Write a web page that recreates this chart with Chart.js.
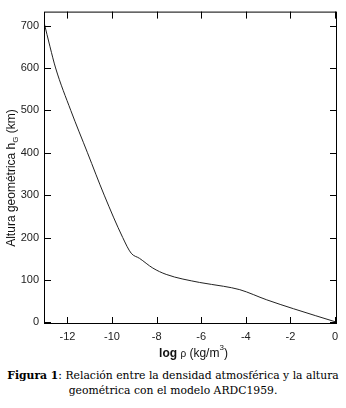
<!DOCTYPE html>
<html>
<head>
<meta charset="utf-8">
<script src="https://cdn.jsdelivr.net/npm/chart.js@4.4.0/dist/chart.umd.min.js"></script>
<style>
  html, body { margin: 0; padding: 0; background: #fff; }
  #wrap { position: relative; width: 346px; height: 408px; }
  #box { position: absolute; left: 0; top: 0; width: 346px; height: 360px; }
  #caption {
    position: absolute; left: 0; top: 368px; width: 346px;
    font-family: "DejaVu Serif", serif; font-size: 10.8px; line-height: 15px;
    text-align: center; color: #000; white-space: nowrap;
  }
</style>
</head>
<body>
<div id="wrap">
  <div id="box"><canvas id="myChart"></canvas></div>
  <div id="caption"><b>Figura 1</b>: Relación entre la densidad atmosférica y la altura<br>geométrica con el modelo ARDC1959.</div>
</div>
<script>
// log densidad (kg/m3) y altura geometrica (km)
const logRho = [-13.05, -12.78, -12.53, -11.85, -11.1, -10.35, -9.52, -9.14, -8.77, -8.17, -7.57, -6.07, -5.0, -4.27, -3.06, -1.86, 0.09];
const altura = [708, 650, 600, 500, 400, 300, 200, 163, 151, 128, 113, 94, 85, 77, 53, 32, 0];
const xTicks = [-12, -10, -8, -6, -4, -2, 0];
const yTicks = [0, 100, 200, 300, 400, 500, 600, 700];

const ctx = document.getElementById('myChart');
const points = logRho.map((v, i) => ({ x: v, y: altura[i] }));

// marco con marcas hacia dentro y titulos de los ejes
const frame = {
  id: 'frame',
  afterDraw(chart) {
    const c = chart.ctx, a = chart.chartArea, x = chart.scales.x, y = chart.scales.y;
    const tl = 7;
    c.save();
    c.strokeStyle = '#000';
    c.lineWidth = 1;
    c.strokeRect(a.left + 0.5, a.top + 0.5, a.width - 1, a.height - 1);
    c.beginPath();
    xTicks.forEach(v => {
      const px = Math.round(x.getPixelForValue(v)) + 0.5;
      c.moveTo(px, a.bottom); c.lineTo(px, a.bottom - tl);
      c.moveTo(px, a.top); c.lineTo(px, a.top + tl);
    });
    yTicks.forEach(v => {
      const py = Math.round(y.getPixelForValue(v)) + 0.5;
      c.moveTo(a.left, py); c.lineTo(a.left + tl, py);
      c.moveTo(a.right, py); c.lineTo(a.right - tl, py);
    });
    c.stroke();

    // titulo eje x: log ρ (kg/m^3)
    c.fillStyle = '#111';
    c.textBaseline = 'alphabetic';
    c.textAlign = 'left';
    const parts = [
      { t: 'log', f: 'bold 12px "Liberation Sans"', dy: 0 },
      { t: ' ', f: '12px "Liberation Sans"', dy: 0 },
      { t: 'ρ', f: '10px "Liberation Sans"', dy: 0 },
      { t: ' (kg/m', f: '12px "Liberation Sans"', dy: 0 },
      { t: '3', f: '8px "Liberation Sans"', dy: -7 },
      { t: ')', f: '12px "Liberation Sans"', dy: 0 }
    ];
    let w = 0;
    parts.forEach(p => { c.font = p.f; w += c.measureText(p.t).width; });
    let cx = (a.left + a.right) / 2 + 3 - w / 2;
    const by = 357;
    parts.forEach(p => { c.font = p.f; c.fillText(p.t, cx, by + p.dy); cx += c.measureText(p.t).width; });

    // titulo eje y: Altura geométrica h_G (km)
    c.translate(15, 178);
    c.rotate(-Math.PI / 2);
    const yp = [
      { t: 'Altura geométrica h', f: '12px "Liberation Sans"', dy: 0 },
      { t: 'G', f: '8px "Liberation Sans"', dy: 3 },
      { t: ' (km)', f: '12px "Liberation Sans"', dy: 0 }
    ];
    w = 0;
    yp.forEach(p => { c.font = p.f; w += c.measureText(p.t).width; });
    cx = -w / 2;
    yp.forEach(p => { c.font = p.f; c.fillText(p.t, cx, p.dy); cx += c.measureText(p.t).width; });
    c.restore();
  }
};

new Chart(ctx, {
  type: 'line',
  data: {
    datasets: [{
      data: points,
      borderColor: '#222',
      borderWidth: 1,
      pointRadius: 0,
      cubicInterpolationMode: 'monotone',
      fill: false
    }]
  },
  options: {
    responsive: true,
    maintainAspectRatio: false,
    animation: false,
    events: [],
    layout: { padding: { top: 0, right: 9, bottom: 0, left: 0 } },
    plugins: { legend: { display: false }, tooltip: { enabled: false } },
    scales: {
      x: {
        type: 'linear',
        min: -13.05,
        max: 0.09,
        grid: { display: false, drawTicks: false },
        border: { display: false },
        afterBuildTicks: s => { s.ticks = xTicks.map(v => ({ value: v })); },
        afterFit: s => { s.height = 36; },
        ticks: {
          padding: 6,
          color: '#222',
          font: { family: 'Liberation Sans', size: 11 }
        }
      },
      y: {
        min: -4,
        max: 733,
        grid: { display: false, drawTicks: false },
        border: { display: false },
        afterBuildTicks: s => { s.ticks = yTicks.map(v => ({ value: v })); },
        afterFit: s => { s.width = 44; },
        ticks: {
          padding: 5,
          color: '#222',
          font: { family: 'Liberation Sans', size: 11 }
        }
      }
    }
  },
  plugins: [frame]
});
</script>
</body>
</html>
